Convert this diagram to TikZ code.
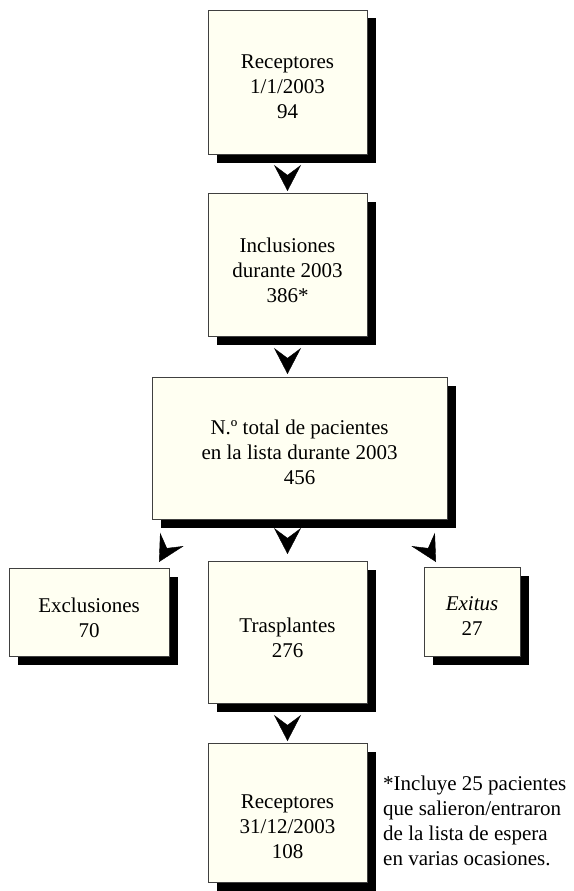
\documentclass[tikz,border=0pt]{standalone}
\usepackage{fontspec}
\setmainfont{Liberation Serif}
\usetikzlibrary{shadows,arrows.meta}
\definecolor{boxfill}{RGB}{255,255,242}
\newcommand{\bxt}[2]{\raisebox{-#1}[\height][\depth]{\begin{tabular}{@{}c@{}}#2\end{tabular}}}
\begin{document}
\begin{tikzpicture}[x=1pt,y=-1pt,
  txt/.style={font=\fontsize{21}{25}\selectfont},
  box/.style={txt, draw=black!75, line width=0.8pt, fill=boxfill,
    inner sep=0pt, outer sep=0pt,
    drop shadow={shadow xshift=8.5pt, shadow yshift=-8.5pt, fill=black, opacity=1}},
  arr/.style={-{Stealth[length=26pt,width=27pt,inset=10pt]}, line width=0.4pt, black}
]
\useasboundingbox (0,0) rectangle (573,891);

\node[box, minimum width=159pt, minimum height=144pt] (b1) at (287.5,82)
  {\bxt{7pt}{Receptores\\1/1/2003\\94}};
\node[box, minimum width=159pt, minimum height=143pt] (b2) at (287.5,264.5)
  {\bxt{7.5pt}{Inclusiones\\durante 2003\\386*}};
\node[box, minimum width=295pt, minimum height=142pt] (b3) at (299.5,448)
  {\bxt{6pt}{N.º total de pacientes\\en la lista durante 2003\\456}};
\node[box, minimum width=160pt, minimum height=88pt] (ex) at (89,612)
  {\bxt{7.5pt}{Exclusiones\\70}};
\node[box, minimum width=159pt, minimum height=142pt] (tr) at (287.5,632)
  {\bxt{7.5pt}{Trasplantes\\276}};
\node[box, minimum width=96pt, minimum height=89pt] (exi) at (472,611.5)
  {\bxt{6pt}{\textit{Exitus}\\27}};
\node[box, minimum width=159pt, minimum height=139pt] (b6) at (287.5,812.5)
  {\bxt{16pt}{Receptores\\31/12/2003\\108}};

\node[txt, anchor=base west, inner sep=0pt] (note) at (383,790)
  {\begin{tabular}[t]{@{}l@{}}*Incluye 25 pacientes\\que salieron/entraron\\de la lista de espera\\en varias ocasiones.\end{tabular}};

\draw[arr, shorten <=22pt, shorten >=2pt] (b1.south) -- (b2.north);
\draw[arr, shorten <=23pt, shorten >=3pt] (b2.south) -- (b2.south |- b3.north);
\draw[arr, shorten <=20pt, shorten >=7pt] (b3.south -| tr.north) -- (tr.north);
\draw[arr, shorten <=23pt, shorten >=2pt] (tr.south) -- (b6.north);

\coordinate (exs) at ([xshift=-2.6pt,yshift=19pt]ex.north east);
\coordinate (ext) at ([xshift=-10pt,yshift=6pt]ex.north east);
\draw[arr] (exs) -- (ext);
\coordinate (exis) at ([xshift=4.6pt,yshift=18pt]exi.north west);
\coordinate (exit) at ([xshift=12pt,yshift=5pt]exi.north west);
\draw[arr] (exis) -- (exit);
\end{tikzpicture}
\end{document}
